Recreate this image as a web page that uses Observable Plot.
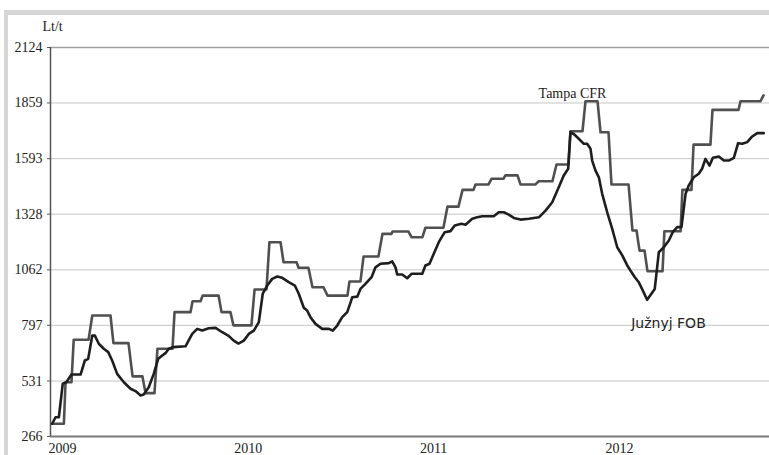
<!DOCTYPE html>
<html><head><meta charset="utf-8">
<script src="https://cdn.jsdelivr.net/npm/d3@7"></script>
<script src="https://cdn.jsdelivr.net/npm/@observablehq/plot@0.6"></script>
<style>
body{margin:0;background:#fff;}
#wrap{position:relative;width:769px;height:455px;overflow:hidden;background:#fff;}
#wrap svg{position:absolute;left:0;top:0;}
#frame{position:absolute;left:4px;top:10px;right:0;bottom:-20px;border-left:4px solid #d6d6d6;border-top:5px solid #d6d6d6;pointer-events:none;}
</style></head><body><div id="wrap"></div>
<script>
// Tampa CFR (Lt/t), corner points of the step line, x in decimal years
const tampaYear = [2009.009,2009.072,2009.081,2009.113,2009.125,2009.205,2009.225,2009.323,2009.339,2009.420,2009.442,2009.495,2009.512,2009.560,2009.576,2009.657,2009.668,2009.754,2009.765,2009.808,2009.819,2009.905,2009.921,2009.969,2009.985,2010.082,2010.099,2010.163,2010.179,2010.239,2010.255,2010.325,2010.336,2010.389,2010.411,2010.470,2010.492,2010.599,2010.610,2010.669,2010.686,2010.766,2010.788,2010.836,2010.842,2010.928,2010.944,2011.003,2011.019,2011.116,2011.138,2011.197,2011.219,2011.278,2011.289,2011.359,2011.375,2011.439,2011.450,2011.515,2011.531,2011.612,2011.628,2011.703,2011.725,2011.789,2011.800,2011.865,2011.881,2011.946,2011.962,2012.005,2012.021,2012.113,2012.134,2012.156,2012.172,2012.199,2012.215,2012.296,2012.306,2012.393,2012.403,2012.452,2012.463,2012.554,2012.565,2012.705,2012.716,2012.823,2012.840];
const tampaPrice = [327,327,525,525,728,728,844,844,712,712,553,553,473,473,685,685,860,860,912,912,939,939,860,860,797,797,968,968,1194,1194,1098,1098,1072,1072,979,979,939,939,1006,1006,1126,1126,1234,1234,1245,1245,1218,1218,1263,1263,1364,1364,1444,1444,1470,1470,1497,1497,1513,1513,1470,1470,1485,1485,1565,1565,1724,1724,1867,1867,1719,1719,1470,1470,1250,1250,1154,1154,1055,1055,1246,1246,1444,1444,1660,1660,1826,1826,1867,1867,1895];

// Južnyj FOB (Lt/t)
const juzYear = [2009.009,2009.027,2009.045,2009.066,2009.085,2009.113,2009.162,2009.185,2009.203,2009.225,2009.239,2009.260,2009.287,2009.311,2009.332,2009.359,2009.395,2009.431,2009.458,2009.485,2009.502,2009.529,2009.556,2009.580,2009.602,2009.619,2009.637,2009.659,2009.727,2009.763,2009.790,2009.817,2009.852,2009.889,2009.925,2009.957,2009.987,2010.012,2010.041,2010.068,2010.095,2010.122,2010.143,2010.167,2010.194,2010.221,2010.248,2010.283,2010.316,2010.337,2010.364,2010.382,2010.400,2010.427,2010.463,2010.499,2010.520,2010.544,2010.571,2010.598,2010.616,2010.625,2010.652,2010.669,2010.696,2010.729,2010.750,2010.777,2010.822,2010.840,2010.858,2010.867,2010.894,2010.921,2010.944,2011.002,2011.019,2011.041,2011.064,2011.091,2011.123,2011.154,2011.177,2011.213,2011.235,2011.271,2011.298,2011.325,2011.387,2011.414,2011.441,2011.468,2011.495,2011.531,2011.576,2011.630,2011.666,2011.702,2011.737,2011.764,2011.788,2011.800,2011.818,2011.845,2011.872,2011.890,2011.908,2011.917,2011.935,2011.953,2011.971,2011.998,2012.025,2012.052,2012.079,2012.106,2012.123,2012.147,2012.168,2012.190,2012.213,2012.236,2012.254,2012.276,2012.303,2012.330,2012.351,2012.375,2012.398,2012.420,2012.437,2012.464,2012.491,2012.509,2012.527,2012.549,2012.567,2012.599,2012.626,2012.653,2012.680,2012.703,2012.725,2012.752,2012.779,2012.806,2012.841];
const juzPrice = [327,358,358,518,525,562,562,629,637,748,748,709,685,669,629,565,525,494,483,462,467,501,565,637,653,664,685,693,697,756,780,772,783,785,764,748,724,710,724,756,772,812,948,987,1019,1030,1024,1003,987,948,881,868,836,804,780,780,772,796,836,860,907,931,934,971,995,1027,1074,1091,1094,1103,1074,1040,1040,1022,1043,1043,1083,1091,1139,1194,1242,1247,1274,1282,1277,1306,1313,1318,1318,1337,1337,1326,1310,1302,1306,1313,1345,1385,1457,1513,1545,1719,1711,1688,1664,1664,1640,1584,1536,1504,1425,1337,1258,1170,1131,1083,1059,1027,1003,963,919,948,971,1146,1170,1202,1242,1266,1266,1425,1465,1504,1521,1545,1592,1560,1597,1603,1584,1584,1597,1667,1664,1672,1699,1715,1715];

const yTicks = [266,531,797,1062,1328,1593,1859,2124];
const xTicks = [2009,2010,2011,2012];
const seriesLabels = ["Tampa CFR","Južnyj FOB"];
const unitLabel = "Lt/t";

const tampa = tampaYear.map((x,i)=>({x, y: tampaPrice[i]}));
const juz = juzYear.map((x,i)=>({x, y: juzPrice[i]}));

const chart = Plot.plot({
  width: 769, height: 455,
  marginTop: 47, marginBottom: 19, marginLeft: 50, marginRight: 0,
  style: {fontFamily: "'Liberation Serif', 'Times New Roman', serif", fontSize: "14px", background: "transparent", color: "#222"},
  x: {domain: [2009, 2012.872], label: null},
  y: {domain: [266, 2124], label: null},
  marks: [
    Plot.ruleY(yTicks.slice(1, -1), {stroke: "#c4c4c4", strokeWidth: 1}),
    Plot.ruleY([yTicks[yTicks.length-1]], {stroke: "#a0a0a0", strokeWidth: 1.5}),
    Plot.ruleY([yTicks[0]], {stroke: "#7a7a7a", strokeWidth: 2}),
    Plot.ruleX([xTicks[0]], {stroke: "#555", strokeWidth: 1.5}),
    Plot.axisY({ticks: yTicks, tickFormat: d => String(d), tickSize: 3, tickPadding: 5, stroke: "#555", fill: "#222", label: null, fontFamily: "'Liberation Serif', serif"}),
    Plot.axisX({ticks: xTicks, tickFormat: d => String(d), tickSize: 0, tickPadding: 7, textAnchor: "start", dx: -2, fill: "#222", label: null, fontFamily: "'Liberation Serif', serif"}),
    Plot.line(tampa, {x: "x", y: "y", stroke: "#505050", strokeWidth: 2.6}),
    Plot.line(juz, {x: "x", y: "y", stroke: "#1e1e1e", strokeWidth: 2.6}),
    Plot.text([seriesLabels[0]], {x: 2011.811, y: 1904, text: d => d, fill: "#222", fontSize: 14, fontFamily: "'Liberation Serif', serif"}),
    Plot.text([seriesLabels[1]], {x: 2012.328, y: 806, text: d => d, fill: "#222", fontSize: 14, fontFamily: "'DejaVu Sans', sans-serif"}),
    Plot.text([unitLabel], {x: 2009, y: 2124, text: d => d, dx: -8, dy: -21, textAnchor: "start", fill: "#222", fontSize: 14, fontFamily: "'Liberation Serif', serif"})
  ]
});
const wrap = document.getElementById("wrap");
wrap.appendChild(chart);
const frame = document.createElement("div");
frame.id = "frame";
wrap.appendChild(frame);
</script>
</body></html>
